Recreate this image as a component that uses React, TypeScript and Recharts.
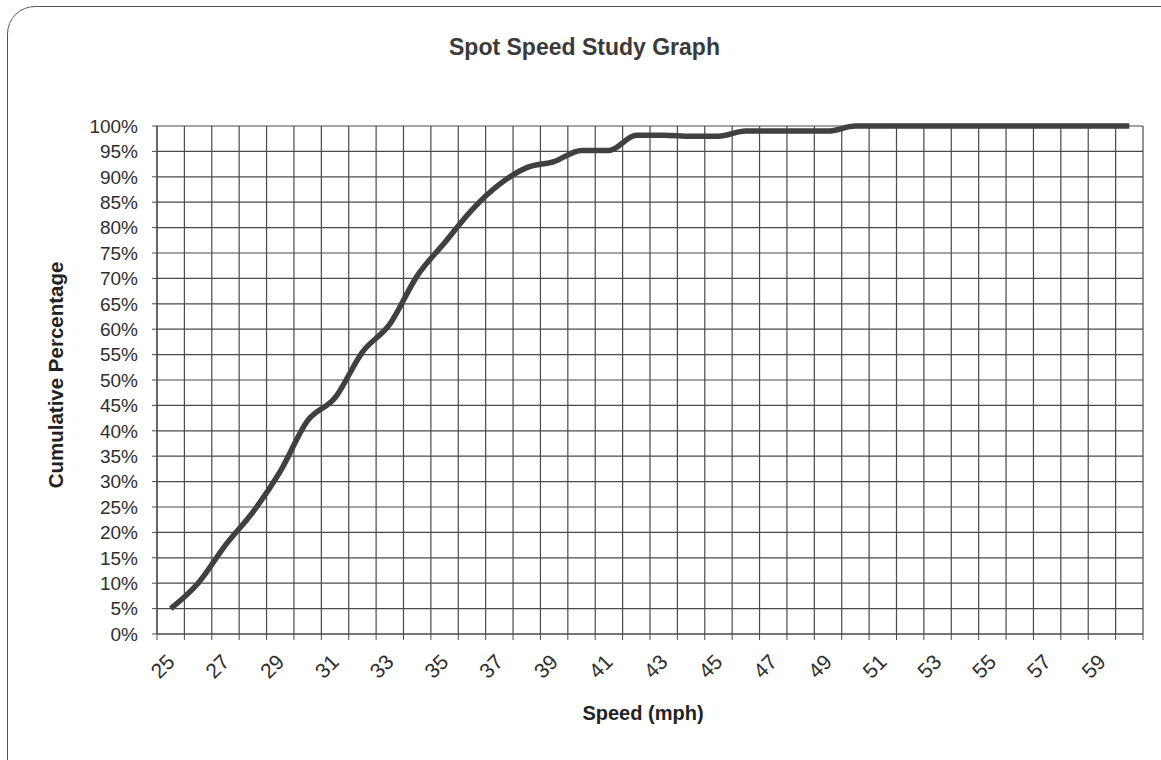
import { LineChart, Line, XAxis, YAxis, CartesianGrid } from "recharts";

// speed categories (mph) and cumulative percentage
const speeds = [
  25, 26, 27, 28, 29, 30, 31, 32, 33, 34, 35, 36, 37, 38, 39, 40, 41, 42,
  43, 44, 45, 46, 47, 48, 49, 50, 51, 52, 53, 54, 55, 56, 57, 58, 59, 60,
];
const cumulative = [
  5, 10, 17.5, 24, 32, 42, 46.5, 55.5, 61, 70.5, 77, 83.5, 88.5, 91.8, 93,
  95.2, 95.2, 98.2, 98.2, 98, 98, 99, 99, 99, 99, 100, 100, 100, 100, 100,
  100, 100, 100, 100, 100, 100,
];
const speedLabels = [25, 27, 29, 31, 33, 35, 37, 39, 41, 43, 45, 47, 49, 51, 53, 55, 57, 59];
const percentTicks = [0, 5, 10, 15, 20, 25, 30, 35, 40, 45, 50, 55, 60, 65, 70, 75, 80, 85, 90, 95, 100];

const data = speeds.map((speed, i) => ({ speed, pct: cumulative[i] }));

// grid lines sit between categories, like Excel's "between tick marks"
const boundaries = [...speeds.map((s) => s - 0.5), speeds[speeds.length - 1] + 0.5];
const domain = [boundaries[0], boundaries[boundaries.length - 1]];

const FONT = "'Liberation Sans', Arial, sans-serif";
const INK = "#2e2e2e";
const GRID = "#4a4a4a";

const EmptyTick = () => <g />;

const RotatedTick = (props: any) => {
  const { x, y, payload } = props;
  return (
    <g transform={`translate(${x},${y + 16})`}>
      <text
        transform="rotate(-45)"
        textAnchor="end"
        dy="0.35em"
        fill={INK}
        style={{ fontSize: 21, fontFamily: FONT }}
      >
        {payload.value}
      </text>
    </g>
  );
};

export default function App() {
  return (
    <div
      style={{
        position: "absolute",
        left: 0,
        top: 0,
        width: 1161,
        height: 760,
        overflow: "hidden",
        background: "#fff",
        fontFamily: FONT,
      }}
    >
      {/* rounded card outline */}
      <div
        style={{
          position: "absolute",
          left: 7,
          top: 6,
          width: 1180,
          height: 780,
          border: "1.5px solid #555",
          borderRadius: 28,
        }}
      />
      <div
        style={{
          position: "absolute",
          top: 34,
          left: 4,
          width: 1161,
          textAlign: "center",
          fontSize: 23,
          fontWeight: "bold",
          color: "#3a3a3a",
        }}
      >
        Spot Speed Study Graph
      </div>

      <div style={{ position: "absolute", left: 0, top: 0 }}>
        <LineChart
          width={1161}
          height={760}
          data={data}
          margin={{ top: 126, right: 18, left: 0, bottom: 0 }}
        >
          <CartesianGrid xAxisId={0} stroke={GRID} strokeWidth={1.2} />
          <XAxis
            xAxisId={0}
            dataKey="speed"
            type="number"
            domain={domain}
            ticks={boundaries}
            interval={0}
            allowDataOverflow
            height={8}
            tick={<EmptyTick />}
            tickSize={6}
            tickLine={{ stroke: GRID }}
            axisLine={{ stroke: GRID, strokeWidth: 1.2 }}
          />
          <XAxis
            xAxisId="labels"
            dataKey="speed"
            type="number"
            domain={domain}
            ticks={speedLabels}
            interval={0}
            allowDataOverflow
            height={118}
            tickSize={0}
            tickMargin={0}
            tickLine={false}
            axisLine={false}
            tick={<RotatedTick />}
            label={{
              value: "Speed (mph)",
              position: "insideBottom",
              offset: 40,
              dx: -7,
              style: { fontSize: 20, fontWeight: "bold", fill: "#222", fontFamily: FONT },
            }}
          />
          <YAxis
            width={157}
            type="number"
            domain={[0, 100]}
            ticks={percentTicks}
            interval={0}
            tickFormatter={(v) => `${v}%`}
            tick={{ fontSize: 19, fill: INK, fontFamily: FONT }}
            tickSize={5}
            tickMargin={14}
            tickLine={{ stroke: GRID }}
            axisLine={{ stroke: GRID, strokeWidth: 1.2 }}
            label={{
              content: ({ viewBox }: any) => {
                const cx = viewBox.x + 55;
                const cy = viewBox.y + viewBox.height / 2 - 5;
                return (
                  <text
                    x={cx}
                    y={cy}
                    transform={`rotate(-90, ${cx}, ${cy})`}
                    textAnchor="middle"
                    dominantBaseline="central"
                    fontSize={20.5}
                    fontWeight="bold"
                    fill="#222"
                    fontFamily={FONT}
                  >
                    Cumulative Percentage
                  </text>
                );
              },
            }}
          />
          <Line
            xAxisId={0}
            type="monotone"
            dataKey="pct"
            stroke="#404040"
            strokeWidth={5.5}
            dot={false}
            isAnimationActive={false}
          />
        </LineChart>
      </div>
    </div>
  );
}
